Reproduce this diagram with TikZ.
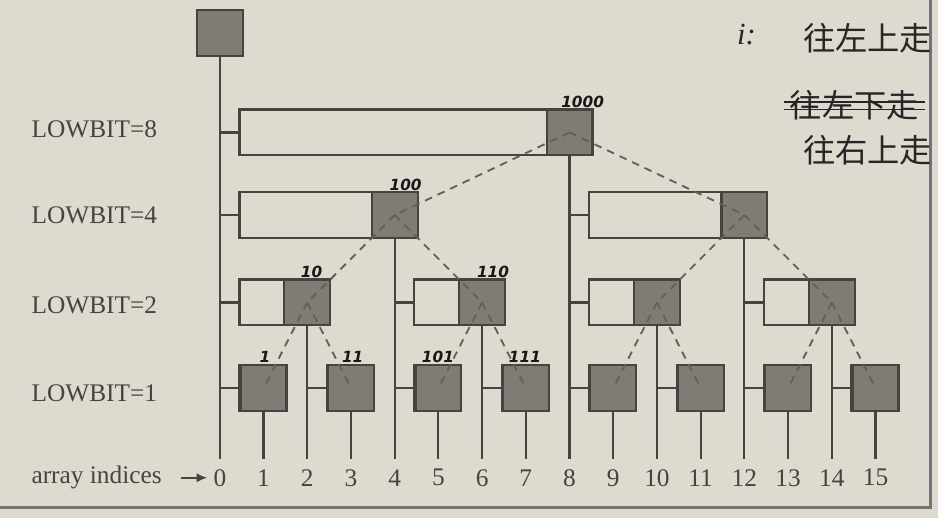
\documentclass[tikz,border=0pt]{standalone}
\usepackage{fontspec}
\setmainfont{Liberation Serif}
\newfontfamily\cjk{Noto Sans CJK SC}
\newfontfamily\hand{DejaVu Sans}
\usetikzlibrary{arrows.meta}
\definecolor{paper}{RGB}{222,218,208}
\definecolor{boxgray}{RGB}{128,123,117}
\definecolor{ink}{RGB}{70,68,64}

\begin{document}
\begin{tikzpicture}[line width=1.4pt,
   cell/.style={draw=ink, fill=boxgray, minimum size=1.05cm, inner sep=0pt},
   span/.style={draw=ink, minimum height=1.05cm, inner sep=0pt, anchor=east},
   link/.style={draw=ink!85, line width=1.2pt, dash pattern=on 5pt off 4pt},
   lvl/.style={anchor=west, text=ink, font=\fontsize{16.5}{18}\selectfont},
   idx/.style={text=ink, font=\fontsize{16.5}{18}\selectfont},
   note/.style={text=black!90, font=\hand\bfseries\itshape\fontsize{10}{10}\selectfont},
   cn/.style={anchor=west, text=black!85, font=\cjk\fontsize{21}{21}\selectfont}]
   \fill[paper] (-5.03,0) rectangle (16.43,11.85);
   \useasboundingbox (-5.03,0) rectangle (16.43,11.85);
   \draw[black!55, line width=2pt] (16.25,11.85) -- (16.25,0.23) -- (-5.03,0.23);
 % levels
   \node[lvl] (l8) at (-4.45,8.9) {LOWBIT=8};
   \node[lvl] (l4) at (-4.45,6.93) {LOWBIT=4};
   \node[lvl] (l2) at (-4.45,4.87) {LOWBIT=2};
   \node[lvl] (l1) at (-4.45,2.85) {LOWBIT=1};
   \node[lvl] (arr) at (-4.45,0.92) {array indices};
 % indices
   \foreach \i in {0,...,15} {
     \coordinate (b\i) at (\i,1.35);
     \node[idx] (n\i) at (\i,0.92) {\i};
   }
   \draw[ink, line width=1.2pt, -{Latex[length=7pt,width=6pt]}] ([xshift=0.3cm]arr.east) -- (n0.west);
 % boxes
   \node[cell] (c0) at (0,11.09) {};
   \foreach \i/\l/\y/\p in {1/1/2.97/0, 2/2/4.93/0, 3/1/2.97/2, 4/4/6.93/0,
                            5/1/2.97/4, 6/2/4.93/4, 7/1/2.97/6, 8/8/8.82/0,
                            9/1/2.97/8, 10/2/4.93/8, 11/1/2.97/10, 12/4/6.93/8,
                            13/1/2.97/12, 14/2/4.93/12, 15/1/2.97/14} {
     \node[span, minimum width={(\l+0.05)*1cm}] (r\i) at (\i+0.525,\y) {};
     \node[cell] (c\i) at (\i,\y) {};
     \draw[ink] (r\i.west) -- (r\i.west -| b\p);
   }
   \foreach \i in {0,...,15}
     \draw[ink] (b\i) -- (c\i.south);
   \foreach \a/\b in {8/4, 8/12, 4/2, 4/6, 12/10, 12/14, 2/1, 2/3,
                      6/5, 6/7, 10/9, 10/11, 14/13, 14/15}
     \draw[link] (c\a.center) -- (c\b.center);
 % pen notes
   \node[note] (h8) at (8.3,9.52) {1000};
   \node[note] (h4) at (4.25,7.62) {100};
   \node[note] (h2) at (2.1,5.62) {10};
   \node[note] (h6) at (6.25,5.62) {110};
   \node[note] (h1) at (1.03,3.68) {1};
   \node[note] (h3) at (3.04,3.68) {11};
   \node[note] (h5) at (4.99,3.68) {101};
   \node[note] (h7) at (6.98,3.68) {111};
   \node[text=black!85, font=\itshape\fontsize{20}{20}\selectfont] (iq) at (12.05,11.05) {i:};
   \node[cn] (q1) at (13.2,10.98) {往左上走};
   \node[cn] (q2) at (12.9,9.45) {往左下走};
   \node[cn] (q3) at (13.2,8.42) {往右上走};
   \draw[black!85, line width=1pt] ([yshift=2pt]q2.west) -- ([yshift=2pt]q2.east);
   \draw[black!85, line width=1pt] ([yshift=-3pt]q2.west) -- ([yshift=-3pt]q2.east);
\end{tikzpicture}
\end{document}
